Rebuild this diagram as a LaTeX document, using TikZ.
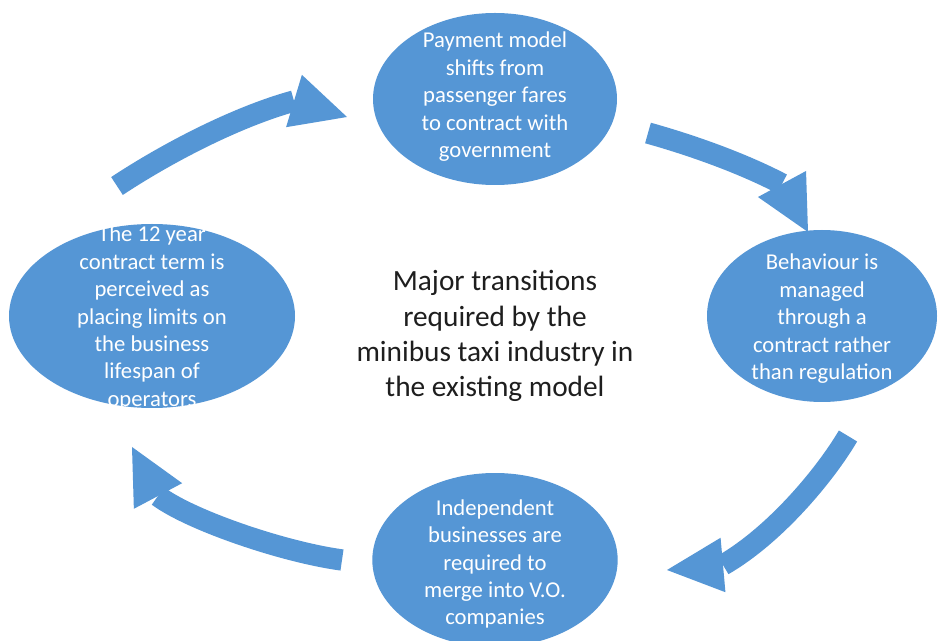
\documentclass[tikz,border=0pt]{standalone}
\usepackage{fontspec}
\setmainfont{Carlito}
\usetikzlibrary{calc,shapes.geometric}
\definecolor{bubbleblue}{RGB}{85,150,213}
\definecolor{titlegray}{RGB}{30,30,30}
\begin{document}
\begin{tikzpicture}[x=0.75pt,y=-0.75pt,
  bubble/.style={ellipse, fill=bubbleblue, draw=none, inner sep=0pt},
  bubbletext/.style={text=white, align=center, inner sep=0pt,
    font=\fontsize{17}{20.6}\selectfont},
  shaft/.style={draw=bubbleblue, line width=16pt, line cap=butt},
  head/.style={fill=bubbleblue, draw=none},
  title/.style={text=titlegray, align=center, inner sep=0pt,
    font=\fontsize{22}{26.4}\selectfont}]

% canvas
\fill[white] (0,0) rectangle (939,641);
\useasboundingbox (0,0) rectangle (939,641);

% the four stages
\node[bubble, minimum width=183pt, minimum height=129pt] (pay) at (495,99) {};
\node[bubble, minimum width=172.5pt, minimum height=129pt] (beh) at (822,316) {};
\node[bubble, minimum width=184pt, minimum height=130.5pt] (ind) at (495,560) {};
\node[bubble, minimum width=214.5pt, minimum height=138pt] (term) at (152,316) {};

\node[bubbletext] (payt) at (495,97) {Payment model\\shifts from\\passenger fares\\to contract with\\government};
\node[bubbletext] (beht) at (822,319) {Behaviour is\\managed\\through a\\contract rather\\than regulation};
\node[bubbletext] (indt) at (495,564) {Independent\\businesses are\\required to\\merge into V.O.\\companies};
\node[bubbletext] (termt) at (152,318) {The 12 year\\contract term is\\perceived as\\placing limits on\\the business\\lifespan of\\operators};

% central caption
\node[title] (cap) at (495,336) {Major transitions\\required by the\\minibus taxi industry in\\the existing model};

% tail, head base and tip of each curved arrow
\coordinate (s1) at (117,186); \coordinate (b1) at (294,101); \coordinate (t1) at (347,117);
\coordinate (s2) at (648,133); \coordinate (b2) at (782,184); \coordinate (t2) at (808,232);
\coordinate (s3) at (848,436); \coordinate (b3) at (723,565); \coordinate (t3) at (667,570);
\coordinate (s4) at (342,560); \coordinate (b4) at (158,496); \coordinate (t4) at (132,447);

% shafts
\draw[shaft] (s1) .. controls (167,153) and (236,117) .. (b1);
\draw[shaft] (s2) .. controls (691,145) and (742,163) .. (b2);
\draw[shaft] (s3) .. controls (825,475) and (775,535) .. (b3);
\draw[shaft] (s4) .. controls (283,552) and (190,520) .. (b4);

% arrow heads
\foreach \i in {1,2,3,4}{
  \fill[head] ($(b\i)!20.5pt!90:(t\i)$) -- (t\i) -- ($(b\i)!20.5pt!-90:(t\i)$) -- cycle;
}
\end{tikzpicture}
\end{document}
